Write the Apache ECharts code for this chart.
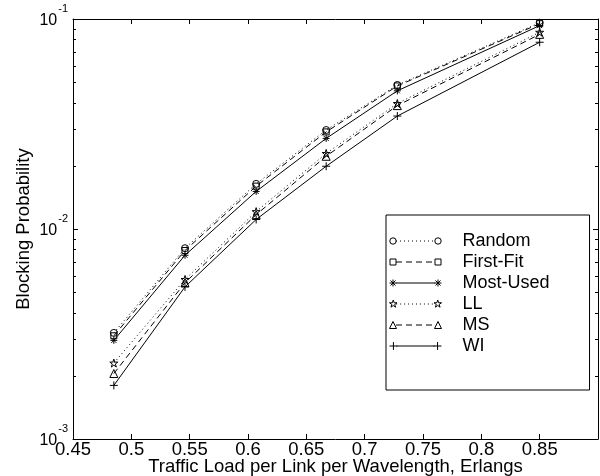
<!DOCTYPE html>
<html>
<head>
<meta charset="utf-8">
<script src="https://cdn.jsdelivr.net/npm/echarts@6/dist/echarts.min.js"></script>
<style>
html,body{margin:0;padding:0;background:#fff;}
#chart{width:600px;height:476px;}
</style>
</head>
<body>
<div id="chart"></div>
<script>
// ---- data ----
const xLoad = [0.485, 0.546, 0.607, 0.667, 0.728, 0.85];
const seriesNames = ['Random', 'First-Fit', 'Most-Used', 'LL', 'MS', 'WI'];
const randomVals  = [3.2e-3, 8.1e-3, 1.64e-2, 2.96e-2, 4.85e-2, 9.6e-2];
const firstFitVals= [3.1e-3, 7.9e-3, 1.60e-2, 2.90e-2, 4.80e-2, 9.5e-2];
const mostUsedVals= [2.95e-3, 7.5e-3, 1.51e-2, 2.70e-2, 4.55e-2, 9.3e-2];
const llVals      = [2.3e-3, 5.75e-3, 1.21e-2, 2.29e-2, 3.96e-2, 8.65e-2];
const msVals      = [2.05e-3, 5.55e-3, 1.17e-2, 2.22e-2, 3.87e-2, 8.45e-2];
const wiVals      = [1.8e-3, 5.3e-3, 1.11e-2, 1.99e-2, 3.45e-2, 7.75e-2];
const xMin = 0.45, xMax = 0.9, xInterval = 0.05;
const yMin = 0.001, yMax = 0.1;
const minorTickValues = [0.002,0.003,0.004,0.005,0.006,0.007,0.008,0.009,
                         0.02,0.03,0.04,0.05,0.06,0.07,0.08,0.09];

// ---- marker / icon shapes (style only) ----
function f(n) { return (+n).toFixed(2); }
function starD(cx, cy, R) {
  let d = '';
  for (let i = 0; i < 10; i++) {
    const a = (-90 + i * 36) * Math.PI / 180;
    const r = (i % 2) ? R * 0.382 : R;
    d += (i === 0 ? 'M' : 'L') + f(cx + r * Math.cos(a)) + ',' + f(cy + r * Math.sin(a));
  }
  return d + 'Z';
}
function circleD(cx, cy, r) {
  return 'M' + f(cx + r) + ',' + f(cy) + 'A' + r + ',' + r + ',0,1,1,' + f(cx - r) + ',' + f(cy) +
         'A' + r + ',' + r + ',0,1,1,' + f(cx + r) + ',' + f(cy) + 'Z';
}
function rectD(cx, cy, h) {
  return 'M' + f(cx - h) + ',' + f(cy - h) + 'L' + f(cx + h) + ',' + f(cy - h) + 'L' + f(cx + h) + ',' + f(cy + h) +
         'L' + f(cx - h) + ',' + f(cy + h) + 'Z';
}
function triD(cx, cy, h) {
  return 'M' + f(cx) + ',' + f(cy - h) + 'L' + f(cx + h) + ',' + f(cy + h) + 'L' + f(cx - h) + ',' + f(cy + h) + 'Z';
}
function plusD(cx, cy, h) {
  return 'M' + f(cx - h) + ',' + f(cy) + 'L' + f(cx + h) + ',' + f(cy) + 'M' + f(cx) + ',' + f(cy - h) + 'L' + f(cx) + ',' + f(cy + h);
}
function astD(cx, cy, h) {
  const k = h * 0.72;
  return plusD(cx, cy, h) + 'M' + f(cx - k) + ',' + f(cy - k) + 'L' + f(cx + k) + ',' + f(cy + k) +
         'M' + f(cx + k) + ',' + f(cy - k) + 'L' + f(cx - k) + ',' + f(cy + k);
}
function lineD(x1, x2, y, kind) {
  if (kind === 'solid') return 'M' + x1 + ',' + y + 'L' + x2 + ',' + y;
  const on = kind === 'dashed' ? 6 : 1, off = kind === 'dashed' ? 4 : 3;
  let d = '';
  for (let x = x1; x < x2; x += on + off) {
    d += 'M' + f(x) + ',' + y + 'L' + f(Math.min(x + on, x2)) + ',' + y;
  }
  return d;
}
const IW = 52, IH = 9;
function legendIcon(shapeFn, size, kind) {
  const cy = IH / 2, xl = 3.5, xr = IW - 3.5;
  let d = 'M0,0M' + IW + ',' + IH;
  d += lineD(xl + 3, xr - 3, cy, kind);
  d += shapeFn(xl, cy, size) + shapeFn(xr, cy, size);
  return 'path://' + d;
}

const styles = [
  {symbol: 'circle', size: 7, dash: [1, 3], kind: 'dotted', shape: circleD, isz: 3.2},
  {symbol: 'rect', size: 6, dash: [6, 4], kind: 'dashed', shape: rectD, isz: 3},
  {symbol: 'path://' + astD(5, 5, 5), size: 7, dash: 'solid', kind: 'solid', shape: astD, isz: 3.5},
  {symbol: 'path://' + starD(10, 10, 10), size: 8, dash: [1, 3], kind: 'dotted', shape: starD, isz: 4},
  {symbol: 'triangle', size: 8, dash: [6, 4], kind: 'dashed', shape: triD, isz: 3.5},
  {symbol: 'path://' + plusD(5, 5, 5), size: 8, dash: 'solid', kind: 'solid', shape: plusD, isz: 4}
];
const allVals = [randomVals, firstFitVals, mostUsedVals, llVals, msVals, wiVals];
const FONT = 'Liberation Sans, Arial, Helvetica, sans-serif';

const lineSeries = seriesNames.map((name, i) => ({
  name: name,
  type: 'line',
  xAxisIndex: 0, yAxisIndex: 0,
  data: xLoad.map((x, j) => [x, allVals[i][j]]),
  symbol: styles[i].symbol,
  symbolSize: styles[i].size,
  showSymbol: true,
  lineStyle: {color: '#000', width: 1, type: styles[i].dash},
  itemStyle: {color: 'rgba(255,255,255,0)', borderColor: '#000', borderWidth: 1},
  emphasis: {disabled: true},
  z: 3
}));

const minorSeries = {
  name: 'minorTicks',
  type: 'custom',
  xAxisIndex: 0, yAxisIndex: 0,
  silent: true,
  clip: false,
  data: minorTickValues.map(v => [xMin, v]),
  renderItem: function (params, api) {
    const p = api.coord([api.value(0), api.value(1)]);
    const cs = params.coordSys;
    const y = Math.round(p[1]) + 0.5;
    return {
      type: 'group',
      children: [
        {type: 'line', shape: {x1: cs.x, y1: y, x2: cs.x + 3, y2: y}, style: {stroke: '#000', lineWidth: 1}},
        {type: 'line', shape: {x1: cs.x + cs.width - 3, y1: y, x2: cs.x + cs.width, y2: y}, style: {stroke: '#000', lineWidth: 1}}
      ]
    };
  },
  z: 4
};

const chart = echarts.init(document.getElementById('chart'), null, {renderer: 'canvas'});
const axisLine = {show: true, onZero: false, lineStyle: {color: '#000', width: 1}};
chart.setOption({
  animation: false,
  backgroundColor: '#fff',
  grid: {left: 73, right: 2, top: 19, bottom: 37, containLabel: false, outerBoundsMode: 'none'},
  legend: {
    data: seriesNames.map((n, i) => ({name: n, icon: legendIcon(styles[i].shape, styles[i].isz, styles[i].kind)})),
    orient: 'vertical',
    left: 386, top: 215,
    padding: [17, 40, 35, 3],
    itemGap: 3,
    itemWidth: IW,
    itemHeight: IH,
    symbolKeepAspect: true,
    backgroundColor: '#fff',
    borderColor: '#000',
    borderWidth: 1,
    selectedMode: false,
    itemStyle: {color: 'rgba(255,255,255,0)', borderColor: '#000', borderWidth: 1},
    textStyle: {fontFamily: FONT, fontSize: 18, color: '#000', padding: [0, 0, 0, 16]}
  },
  xAxis: [{
    type: 'value', min: xMin, max: xMax, interval: xInterval,
    position: 'bottom',
    name: 'Traffic Load per Link per Wavelength, Erlangs',
    nameLocation: 'middle', nameGap: 18, nameMoveOverlap: false,
    nameTextStyle: {fontFamily: FONT, fontSize: 18.5, color: '#000'},
    axisLine: axisLine,
    axisTick: {show: true, inside: true, length: 5, lineStyle: {color: '#000'}},
    axisLabel: {fontFamily: FONT, fontSize: 18.5, color: '#000', margin: 1, showMaxLabel: false},
    splitLine: {show: false}
  }, {
    type: 'value', min: xMin, max: xMax, interval: xInterval,
    position: 'top',
    axisLine: axisLine,
    axisTick: {show: true, inside: true, length: 5, lineStyle: {color: '#000'}},
    axisLabel: {show: false},
    splitLine: {show: false}
  }],
  yAxis: [{
    type: 'log', logBase: 10, min: yMin, max: yMax,
    position: 'left',
    name: 'Blocking Probability',
    nameLocation: 'middle', nameGap: 40, nameMoveOverlap: false,
    nameTextStyle: {fontFamily: FONT, fontSize: 18.5, color: '#000'},
    axisLine: axisLine,
    axisTick: {show: true, inside: true, length: 5, lineStyle: {color: '#000'}},
    axisLabel: {
      margin: 5,
      formatter: function (v) {
        const e = Math.round(Math.log10(v));
        return '{b|10}{s|' + e + '}';
      },
      rich: {
        b: {fontFamily: FONT, fontSize: 16, color: '#000', padding: [4, 1, 0, 0]},
        s: {fontFamily: FONT, fontSize: 11, color: '#000', padding: [0, 0, 20, 0]}
      }
    },
    splitLine: {show: false}
  }, {
    type: 'log', logBase: 10, min: yMin, max: yMax,
    position: 'right',
    axisLine: axisLine,
    axisTick: {show: true, inside: true, length: 5, lineStyle: {color: '#000'}},
    axisLabel: {show: false},
    splitLine: {show: false}
  }],
  series: lineSeries.concat([minorSeries])
});
</script>
</body>
</html>
